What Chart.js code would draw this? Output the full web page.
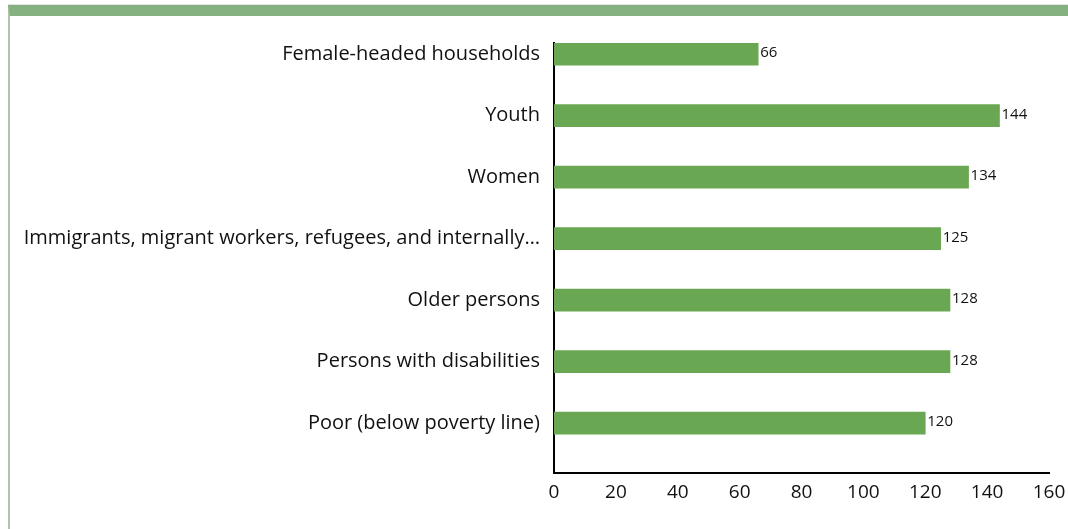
<!DOCTYPE html>
<html>
<head>
<meta charset="utf-8">
<script src="https://cdn.jsdelivr.net/npm/chart.js@4"></script>
<style>
  html, body { margin: 0; padding: 0; background: #fff; }
  body { width: 1068px; height: 529px; position: relative; overflow: hidden; }
  #frame {
    position: absolute; left: 8px; top: 5px; right: 0; bottom: 0;
    border-top: 11px solid #84b17f;
    border-left: 2px solid #a9c9a4;
    box-shadow: 0 -1px 0 #e2e2e2;
  }
  #wrap { position: absolute; left: 0; top: 0; width: 1068px; height: 529px; }
</style>
</head>
<body>
<div id="frame"></div>
<div id="wrap"><canvas id="chart"></canvas></div>
<script>
const categories = [
  'Female-headed households',
  'Youth',
  'Women',
  'Immigrants, migrant workers, refugees, and internally\u2026',
  'Older persons',
  'Persons with disabilities',
  'Poor (below poverty line)'
];
const values = [66, 144, 134, 125, 128, 128, 120];
const xTicks = [0, 20, 40, 60, 80, 100, 120, 140, 160];

const FONT = '"Open Sans", sans-serif';
const BAR_COLOR = '#6aa753';

// value labels just past the end of each bar
const valueLabels = {
  id: 'valueLabels',
  afterDatasetsDraw(chart) {
    const ctx = chart.ctx;
    const meta = chart.getDatasetMeta(0);
    ctx.save();
    ctx.fillStyle = '#111';
    ctx.font = '15px ' + FONT;
    ctx.textAlign = 'left';
    ctx.textBaseline = 'middle';
    meta.data.forEach((bar, i) => {
      ctx.fillText(String(values[i]), bar.x + 2, bar.y - 1);
    });
    ctx.restore();
  }
};

new Chart(document.getElementById('chart'), {
  type: 'bar',
  data: {
    datasets: [{
      data: categories.map((c, i) => ({ y: i, x: values[i] })),
      backgroundColor: BAR_COLOR,
      borderWidth: 0,
      barThickness: 22
    }]
  },
  options: {
    indexAxis: 'y',
    responsive: true,
    maintainAspectRatio: false,
    animation: false,
    layout: { padding: { top: 43, right: 19, bottom: 0, left: 0 } },
    plugins: { legend: { display: false }, tooltip: { enabled: false } },
    scales: {
      x: {
        type: 'linear',
        min: xTicks[0],
        max: xTicks[xTicks.length - 1],
        afterBuildTicks: s => { s.ticks = xTicks.map(v => ({ value: v })); },
        afterFit: s => { s.height = 56; s.paddingLeft = 0; s.paddingRight = 0; },
        grid: { display: false, drawTicks: false },
        border: { display: true, color: '#000', width: 2 },
        ticks: { color: '#111', font: { family: FONT, size: 19 }, padding: 8, maxRotation: 0 }
      },
      y: {
        type: 'linear',
        offset: false,
        reverse: true,
        min: -0.18,
        max: categories.length - 1 + 0.81,
        afterBuildTicks: s => { s.ticks = categories.map((c, i) => ({ value: i })); },
        afterFit: s => { s.width = 554; s.paddingTop = 0; s.paddingBottom = 0; },
        grid: { display: false, drawTicks: false },
        border: { display: true, color: '#000', width: 2 },
        ticks: {
          color: '#111',
          font: { family: FONT, size: 20 },
          padding: 14,
          autoSkip: false,
          callback: v => categories[v]
        }
      }
    }
  },
  plugins: [valueLabels]
});
</script>
</body>
</html>
